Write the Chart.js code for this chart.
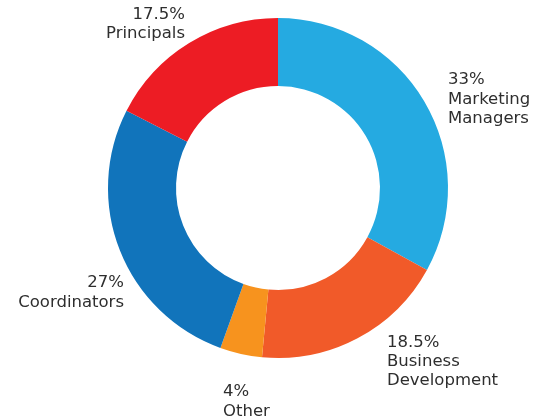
<!DOCTYPE html>
<html>
<head>
<meta charset="utf-8">
<script src="https://cdn.jsdelivr.net/npm/chart.js@4"></script>
<style>
  html, body { margin: 0; padding: 0; background: #ffffff; }
  #wrap { width: 543px; height: 419px; position: relative; }
</style>
</head>
<body>
<div id="wrap"><canvas id="c" width="543" height="419"></canvas></div>
<script>
// ---- data ----
const categories = ["Marketing Managers", "Business Development", "Other", "Coordinators", "Principals"];
const labelLines = [["Marketing", "Managers"], ["Business", "Development"], ["Other"], ["Coordinators"], ["Principals"]];
const shares = [33, 18.5, 4, 27, 17.5];
const sliceColors = ["#25AAE1", "#F15A29", "#F7931E", "#1174BB", "#ED1C24"];

// label placement relative to doughnut centre (dx, dy of first line) and alignment
const labelLayout = [
  { dx: 170, dy: -108, align: "left" },
  { dx: 109, dy: 154.5, align: "left" },
  { dx: -55, dy: 204, align: "left" },
  { dx: -154, dy: 95, align: "right" },
  { dx: -93, dy: -173.5, align: "right" }
];
const lineHeight = 19.3;

const labelPlugin = {
  id: "outerLabels",
  afterDraw(chart) {
    const meta = chart.getDatasetMeta(0);
    const arc = meta.data[0];
    const cx = arc.x, cy = arc.y;
    const ctx = chart.ctx;
    ctx.save();
    ctx.fillStyle = "#2e2e2e";
    ctx.font = "16.5px 'DejaVu Sans'";
    ctx.textBaseline = "middle";
    shares.forEach((v, i) => {
      const L = labelLayout[i];
      ctx.textAlign = L.align;
      const lines = [v + "%"].concat(labelLines[i]);
      lines.forEach((t, j) => {
        ctx.fillText(t, cx + L.dx, cy + L.dy + j * lineHeight);
      });
    });
    ctx.restore();
  }
};

new Chart(document.getElementById("c"), {
  type: "doughnut",
  data: {
    labels: categories,
    datasets: [{
      data: shares,
      backgroundColor: sliceColors,
      borderWidth: 0,
      hoverOffset: 0
    }]
  },
  options: {
    responsive: false,
    animation: false,
    cutout: "60%",
    layout: { padding: { top: 18, bottom: 61, left: 108, right: 95 } },
    plugins: {
      legend: { display: false },
      tooltip: { enabled: false }
    }
  },
  plugins: [labelPlugin]
});
</script>
</body>
</html>
